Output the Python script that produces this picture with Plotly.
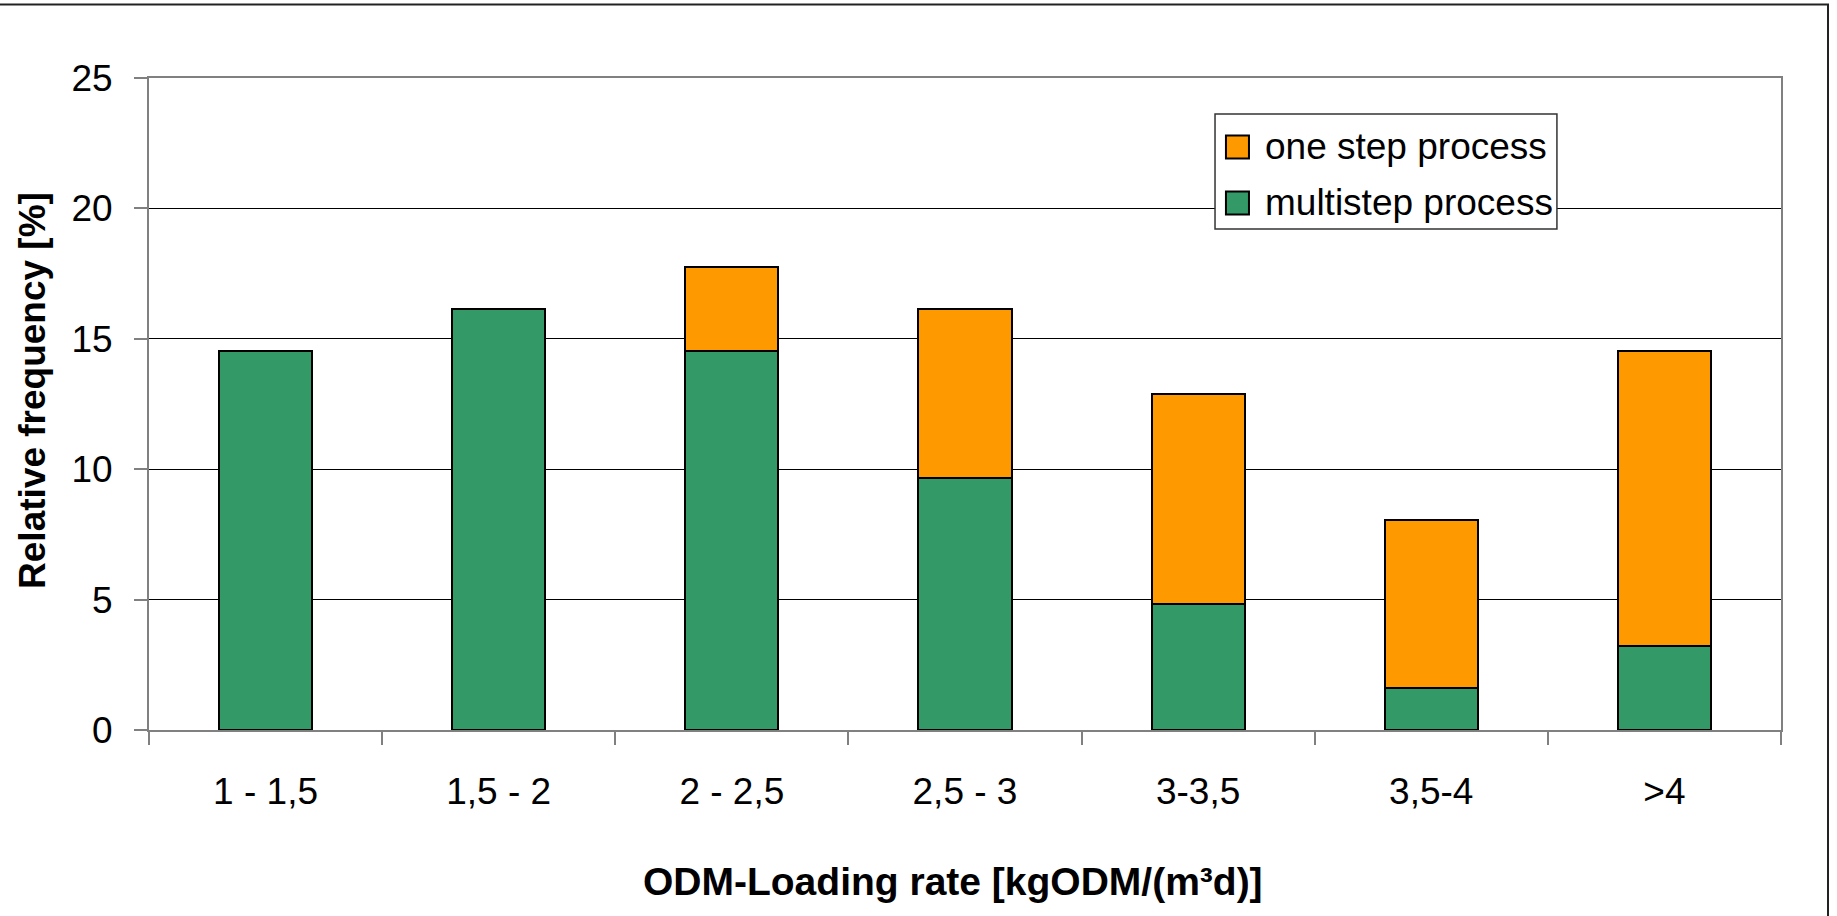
import plotly.graph_objects as go

categories = ["1 - 1,5", "1,5 - 2", "2 - 2,5", "2,5 - 3", "3-3,5", "3,5-4", ">4"]
multistep = [14.52, 16.13, 14.52, 9.68, 4.84, 1.61, 3.23]
one_step = [None, None, 3.23, 6.45, 8.06, 6.45, 11.29]
series_names = ["one step process", "multistep process"]
y_ticks = [0, 5, 10, 15, 20, 25]

GREEN = "#339966"
ORANGE = "#FF9900"
FONT = "Liberation Sans, Arial, sans-serif"

fig = go.Figure()
fig.add_trace(go.Bar(x=categories, y=multistep, name=series_names[1],
                     marker=dict(color=GREEN, line=dict(color="black", width=2)),
                     width=0.4, showlegend=False))
fig.add_trace(go.Bar(x=categories, y=one_step, name=series_names[0],
                     marker=dict(color=ORANGE, line=dict(color="black", width=2)),
                     width=0.4, showlegend=False))

fig.update_layout(
    width=1837, height=916,
    margin=dict(l=149, r=56, t=78, b=186, pad=0),
    barmode="stack",
    paper_bgcolor="white", plot_bgcolor="white",
    font=dict(family=FONT, size=37, color="black"),
    showlegend=False,
)
fig.update_yaxes(
    range=[0, 25], tickvals=y_ticks, ticktext=[str(v) for v in y_ticks],
    showgrid=True, gridcolor="black", gridwidth=1,
    showline=True, linecolor="#808080", linewidth=2, mirror=True,
    ticks="outside", ticklen=13, tickcolor="#808080", tickwidth=2,
    ticklabelstandoff=14, zeroline=False,
    tickfont=dict(family=FONT, size=37),
)
fig.update_xaxes(
    showgrid=False, showline=True, linecolor="#808080", linewidth=2, mirror=True,
    ticks="outside", ticklen=13, tickcolor="#808080", tickwidth=2,
    tickson="boundaries", ticklabelstandoff=28,
    tickfont=dict(family=FONT, size=37),
)

# axis titles
fig.add_annotation(text="<b>ODM-Loading rate [kgODM/(m³d)]</b>", xref="paper", yref="paper",
                   x=0.4926, y=-0.2316, showarrow=False, xanchor="center", yanchor="middle",
                   font=dict(family=FONT, size=39))
fig.add_annotation(text="<b>Relative frequency [%]</b>", xref="paper", yref="paper",
                   x=-0.0711, y=0.5215, showarrow=False, textangle=-90,
                   xanchor="center", yanchor="middle", font=dict(family=FONT, size=37))

# legend (drawn manually to match square symbol size)
fig.add_shape(type="rect", xref="paper", yref="paper", x0=0.6532, x1=0.8627, y0=0.7684, y1=0.9448,
              fillcolor="white", line=dict(color="#333333", width=1.5), layer="above")
legend_rows = [(series_names[0], ORANGE, 0.9118, 0.8765, 0.8942),
               (series_names[1], GREEN, 0.8259, 0.7906, 0.8083)]
for name, col, y0, y1, yc in legend_rows:
    fig.add_shape(type="rect", xref="paper", yref="paper", x0=0.6599, x1=0.6740, y0=y1, y1=y0,
                  fillcolor=col, line=dict(color="black", width=2), layer="above")
    fig.add_annotation(text=name, xref="paper", yref="paper", x=0.6826, y=yc,
                       showarrow=False, xanchor="left", yanchor="middle",
                       font=dict(family=FONT, size=37))

# outer chart border (top and right visible)
fig.add_shape(type="rect", xref="paper", yref="paper", x0=-0.2, x1=1.0288, y0=-0.5, y1=1.1127,
              fillcolor="rgba(0,0,0,0)", line=dict(color="#222222", width=2), layer="above")

fig.write_html("out.html")
